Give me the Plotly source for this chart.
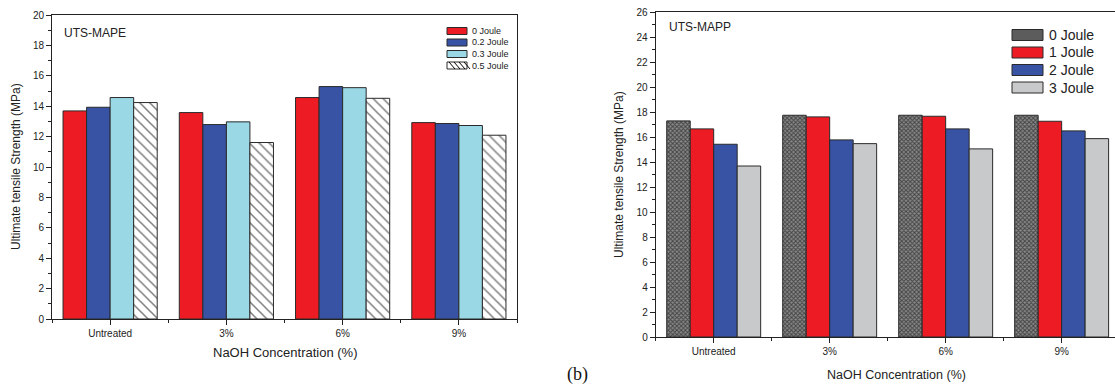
import plotly.graph_objects as go

categories = ["Untreated", "3%", "6%", "9%"]

# Left panel: UTS-MAPE
mape_names = ["0 Joule", "0.2 Joule", "0.3 Joule", "0.5 Joule"]
mape_0 = [13.69, 13.58, 14.57, 12.92]
mape_02 = [13.93, 12.79, 15.29, 12.86]
mape_03 = [14.57, 12.97, 15.22, 12.73]
mape_05 = [14.24, 11.61, 14.52, 12.09]

# Right panel: UTS-MAPP
mapp_names = ["0 Joule", "1 Joule", "2 Joule", "3 Joule"]
mapp_0 = [17.29, 17.74, 17.74, 17.74]
mapp_1 = [16.65, 17.61, 17.66, 17.26]
mapp_2 = [15.42, 15.77, 16.65, 16.49]
mapp_3 = [13.68, 15.47, 15.05, 15.87]

RED = "#ED1C24"
BLUE = "#3953A4"
CYAN = "#9AD8E6"
GRAY = "#C8C9CB"
xpos = list(range(len(categories)))

W, H = 1115, 385
FONT = "Liberation Sans, Arial"

fig = go.Figure()

HATCH = dict(shape="\\", fgcolor="#000", bgcolor="white", size=7, solidity=0.22)
CHECK = dict(shape="x", fgcolor="#000", bgcolor="#8a8a8a", size=3, solidity=0.55)

left_colors = [RED, BLUE, CYAN, "white"]
for i, (name, vals) in enumerate(zip(mape_names, [mape_0, mape_02, mape_03, mape_05])):
    marker = dict(color=left_colors[i], line=dict(color="#2a2a2a", width=1))
    if i == 3:
        marker["pattern"] = HATCH
    fig.add_trace(go.Bar(x=xpos, y=vals, name=name, xaxis="x", yaxis="y",
                         showlegend=False, marker=marker))

right_colors = ["#5c5c5c", RED, BLUE, GRAY]
for i, (name, vals) in enumerate(zip(mapp_names, [mapp_0, mapp_1, mapp_2, mapp_3])):
    marker = dict(color=right_colors[i], line=dict(color="#2a2a2a", width=1))
    if i == 0:
        marker["pattern"] = CHECK
    fig.add_trace(go.Bar(x=xpos, y=vals, name=name, xaxis="x2", yaxis="y2",
                         showlegend=False, marker=marker))

tickfont = dict(family=FONT, size=10, color="#222")


def xaxis_common(dom, rng, anchor):
    return dict(
        domain=dom, range=rng, anchor=anchor, automargin=False,
        tickmode="array", tickvals=xpos, ticktext=categories,
        showline=True, linecolor="#222", linewidth=1, mirror=True,
        ticks="outside", ticklen=5, tickcolor="#222",
        minor=dict(tickmode="linear", tick0=0.5, dtick=1, ticks="outside", ticklen=3, tickcolor="#222"),
        showgrid=False, zeroline=False, tickfont=tickfont, fixedrange=True,
    )


def yaxis_common(dom, rng, dtick, anchor, mirror):
    return dict(
        domain=dom, range=rng, anchor=anchor, dtick=dtick, automargin=False,
        showline=True, linecolor="#222", linewidth=1, mirror=mirror,
        ticks="outside", ticklen=5, tickcolor="#222",
        minor=dict(dtick=dtick / 2, ticks="outside", ticklen=3, tickcolor="#222"),
        showgrid=False, zeroline=False, tickfont=tickfont, fixedrange=True,
    )


def py(px):
    return (H - px) / H


shapes = []
annotations = []

# Compact legend, left panel
for i, (name, yc) in enumerate(zip(mape_names, [31, 42.5, 54, 65.5])):
    shapes.append(dict(type="rect", xref="paper", yref="paper", x0=447 / W, x1=467 / W,
                       y0=py(yc + 3.5), y1=py(yc - 3.5),
                       fillcolor=left_colors[i], line=dict(color="#2a2a2a", width=1)))
    if i == 3:
        for k in range(4):
            xs = 447 + 2 + k * 5
            shapes.append(dict(type="line", xref="paper", yref="paper",
                               x0=xs / W, y0=py(yc - 3.5), x1=(xs + 6) / W, y1=py(yc + 3.5),
                               line=dict(color="#000", width=1)))
    annotations.append(dict(text=name, x=470 / W, y=py(yc), xref="paper", yref="paper",
                            xanchor="left", yanchor="middle", showarrow=False,
                            font=dict(family=FONT, size=9, color="#222")))

# Legend, right panel
for i, (name, yc) in enumerate(zip(mapp_names, [35, 52.5, 70, 87.5])):
    shapes.append(dict(type="rect", xref="paper", yref="paper", x0=1012 / W, x1=1043 / W,
                       y0=py(yc + 5.5), y1=py(yc - 5.5),
                       fillcolor=right_colors[i], line=dict(color="#2a2a2a", width=1)))
    annotations.append(dict(text=name, x=1047 / W, y=py(yc), xref="paper", yref="paper",
                            xanchor="left", yanchor="middle", showarrow=False,
                            font=dict(family=FONT, size=14, color="#222")))

annotations += [
    dict(text="UTS-MAPE", x=62 / W, y=py(33), xref="paper", yref="paper",
         xanchor="left", yanchor="middle", showarrow=False,
         font=dict(family=FONT, size=12, color="#222")),
    dict(text="UTS-MAPP", x=667 / W, y=py(27), xref="paper", yref="paper",
         xanchor="left", yanchor="middle", showarrow=False,
         font=dict(family=FONT, size=12, color="#222")),
    dict(text="Ultimate tensile Strength (MPa)", x=16 / W, y=py(167), xref="paper", yref="paper",
         xanchor="center", yanchor="middle", showarrow=False, textangle=-90,
         font=dict(family=FONT, size=12, color="#222")),
    dict(text="Ultimate tensile Strength (MPa)", x=619 / W, y=py(175), xref="paper", yref="paper",
         xanchor="center", yanchor="middle", showarrow=False, textangle=-90,
         font=dict(family=FONT, size=12, color="#222")),
    dict(text="NaOH Concentration (%)", x=285 / W, y=py(352), xref="paper", yref="paper",
         xanchor="center", yanchor="middle", showarrow=False,
         font=dict(family=FONT, size=13, color="#222")),
    dict(text="NaOH Concentration (%)", x=897 / W, y=py(375), xref="paper", yref="paper",
         xanchor="center", yanchor="middle", showarrow=False,
         font=dict(family=FONT, size=12.5, color="#222")),
    dict(text="(b)", x=577 / W, y=py(374), xref="paper", yref="paper",
         xanchor="center", yanchor="middle", showarrow=False,
         font=dict(family="Liberation Serif, Times New Roman", size=18, color="#111")),
]

fig.update_layout(
    width=W, height=H,
    margin=dict(l=0, r=0, t=0, b=0, pad=0),
    paper_bgcolor="white", plot_bgcolor="white",
    barmode="group", bargap=0.19, bargroupgap=0,
    showlegend=False,
    xaxis=xaxis_common([52 / W, 517 / W], [-0.5, 3.5], "y"),
    yaxis=yaxis_common([py(319), py(15)], [0, 20], 2, "x", True),
    xaxis2=xaxis_common([655.7 / W, 1.0], [-0.5, 3.46], "y2"),
    yaxis2=yaxis_common([py(337), py(12)], [0, 26], 2, "x2", False),
    shapes=shapes,
    annotations=annotations,
)

fig.write_html("out.html", config={"displayModeBar": False},
               post_script="document.body.style.margin='0';")
